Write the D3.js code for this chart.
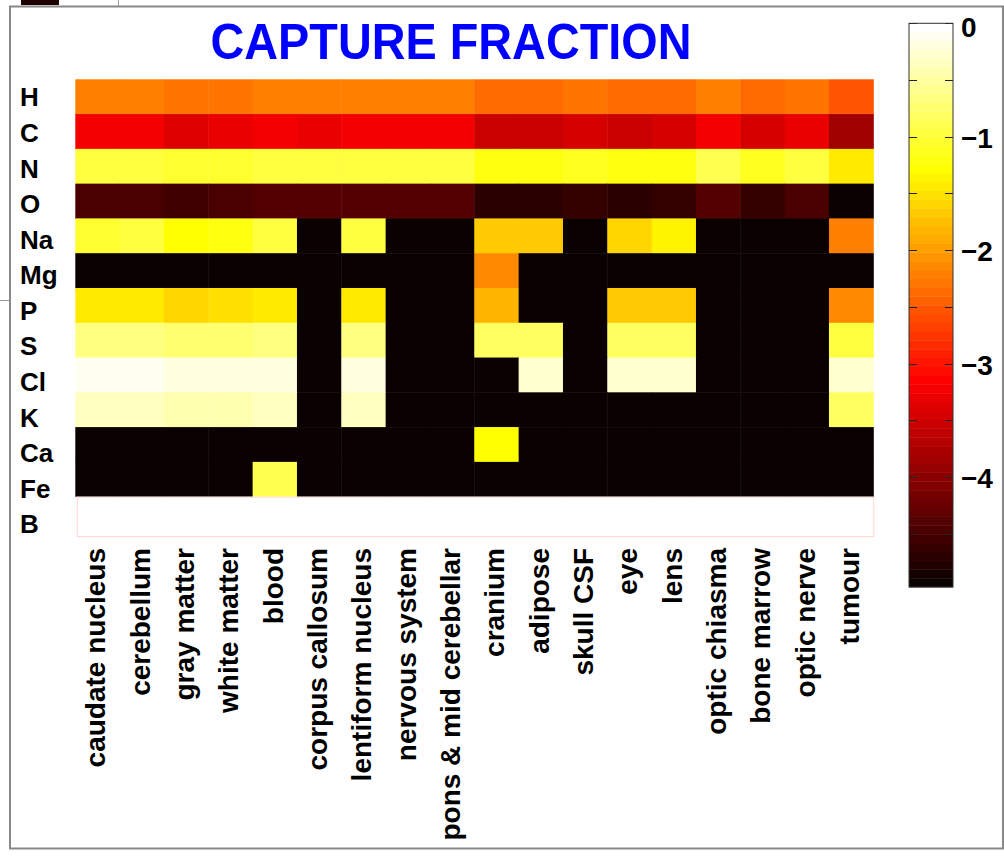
<!DOCTYPE html>
<html>
<head>
<meta charset="utf-8">
<script src="https://cdn.jsdelivr.net/npm/d3@7/dist/d3.min.js"></script>
<style>
  html, body { margin: 0; padding: 0; background: #fff; }
  svg { display: block; }
  text { font-family: "Liberation Sans", Arial, Helvetica, sans-serif; font-weight: bold; }
</style>
</head>
<body>
<script>
// log10 of the neutron capture fraction, per element (rows) and tissue (columns)
const elements = ["H", "C", "N", "O", "Na", "Mg", "P", "S", "Cl", "K", "Ca", "Fe", "B"];
const tissues = ["caudate nucleus", "cerebellum", "gray matter", "white matter", "blood",
  "corpus callosum", "lentiform nucleus", "nervous system", "pons & mid cerebellar",
  "cranium", "adipose", "skull CSF", "eye", "lens", "optic chiasma", "bone marrow",
  "optic nerve", "tumour"];

const rowH  = [-2.21,-2.21,-2.29,-2.29,-2.21,-2.21,-2.21,-2.21,-2.21,-2.37,-2.37,-2.29,-2.37,-2.37,-2.21,-2.37,-2.29,-2.52];
const rowC  = [-3.22,-3.22,-3.38,-3.30,-3.22,-3.30,-3.22,-3.22,-3.22,-3.53,-3.53,-3.46,-3.53,-3.46,-3.22,-3.46,-3.30,-3.84];
const rowN  = [-0.97,-0.97,-1.05,-1.05,-0.97,-0.97,-0.97,-0.97,-0.97,-1.20,-1.20,-1.13,-1.20,-1.20,-0.89,-1.13,-0.97,-1.44];
const rowO  = [-4.47,-4.47,-4.54,-4.47,-4.39,-4.39,-4.39,-4.39,-4.39,-4.70,-4.70,-4.62,-4.70,-4.62,-4.39,-4.62,-4.47,-4.97];
const rowNa = [-1.05,-0.97,-1.28,-1.20,-0.97,-4.97,-0.97,-4.97,-4.97,-1.67,-1.67,-4.97,-1.59,-1.36,-4.97,-4.97,-4.97,-2.21];
const rowMg = [-4.97,-4.97,-4.97,-4.97,-4.97,-4.97,-4.97,-4.97,-4.97,-2.14,-4.97,-4.97,-4.97,-4.97,-4.97,-4.97,-4.97,-4.97];
const rowP  = [-1.44,-1.44,-1.59,-1.51,-1.44,-4.97,-1.44,-4.97,-4.97,-1.83,-4.97,-4.97,-1.67,-1.67,-4.97,-4.97,-4.97,-2.14];
const rowS  = [-0.66,-0.66,-0.74,-0.74,-0.66,-4.97,-0.66,-4.97,-4.97,-0.82,-0.82,-4.97,-0.82,-0.82,-4.97,-4.97,-4.97,-0.97];
const rowCl = [-0.12,-0.12,-0.19,-0.19,-0.19,-4.97,-0.19,-4.97,-4.97,-4.97,-0.27,-4.97,-0.27,-0.27,-4.97,-4.97,-4.97,-0.27];
const rowK  = [-0.35,-0.35,-0.43,-0.43,-0.35,-4.97,-0.35,-4.97,-4.97,-4.97,-4.97,-4.97,-4.97,-4.97,-4.97,-4.97,-4.97,-0.82];
const rowCa = [-4.97,-4.97,-4.97,-4.97,-4.97,-4.97,-4.97,-4.97,-4.97,-1.28,-4.97,-4.97,-4.97,-4.97,-4.97,-4.97,-4.97,-4.97];
const rowFe = [-4.97,-4.97,-4.97,-4.97,-0.89,-4.97,-4.97,-4.97,-4.97,-4.97,-4.97,-4.97,-4.97,-4.97,-4.97,-4.97,-4.97,-4.97];
const rowB  = [0,0,0,0,0,0,0,0,0,0,0,0,0,0,0,0,0,0];

const rows = [rowH, rowC, rowN, rowO, rowNa, rowMg, rowP, rowS, rowCl, rowK, rowCa, rowFe, rowB];
const colorbarTicks = [0, -1, -2, -3, -4];
const titleText = "CAPTURE FRACTION";

// ---- layout ----
const W = 1004, H = 857;
const heat = { left: 75.3, right: 873.3, top: 79.3, rowStep: 34.78, bottom: 537 };
const cbar = { x: 909, w: 44, top: 23.3, bottom: 587 };

const svg = d3.select("body").append("svg").attr("width", W).attr("height", H);

// neighbouring panel fragments and the panel frame
svg.append("rect").attr("x", 21).attr("y", 0).attr("width", 38).attr("height", 5).attr("fill", "#1e0000");
svg.append("line").attr("x1", 118.5).attr("x2", 118.5).attr("y1", 0).attr("y2", 6).attr("stroke", "#999");
svg.append("line").attr("x1", 0).attr("x2", 10).attr("y1", 300.5).attr("y2", 300.5).attr("stroke", "#999");
svg.append("rect").attr("x", 10).attr("y", 6.5).attr("width", 993).attr("height", 842)
  .attr("fill", "#fff").attr("stroke", "#888").attr("stroke-width", 2);

// MATLAB-style "hot" colormap with 64 entries
const hot64 = d3.range(1, 65).map(i => {
  const n = 24, m = 64;
  const r = Math.min(i / n, 1);
  const g = Math.max(0, Math.min((i - n) / n, 1));
  const b = Math.max(0, Math.min((i - 2 * n) / (m - 2 * n), 1));
  return d3.rgb(Math.round(r * 255), Math.round(g * 255), Math.round(b * 255)).formatHex();
});

const allValues = rows.flat();
const color = d3.scaleQuantize().domain(d3.extent(allValues)).range(hot64);

const x = d3.scaleBand().domain(tissues).range([heat.left, heat.right]);
const y = d3.scaleBand().domain(elements)
  .range([heat.top, heat.top + heat.rowStep * elements.length]);

// cells
const cells = [];
rows.forEach((r, ri) => r.forEach((v, ci) => cells.push({ el: elements[ri], t: tissues[ci], v })));

const lastEl = elements[elements.length - 1];
svg.append("g").selectAll("rect").data(cells.filter(d => d.el !== lastEl)).join("rect")
  .attr("x", d => x(d.t))
  .attr("y", d => y(d.el))
  .attr("width", x.bandwidth() + 0.5)
  .attr("height", y.bandwidth() + 0.5)
  .attr("fill", d => color(d.v));

// boron row: saturated cells outlined faintly
svg.append("g").selectAll("rect").data(cells.filter(d => d.el === lastEl)).join("rect")
  .attr("x", d => x(d.t))
  .attr("y", d => y(d.el))
  .attr("width", x.bandwidth())
  .attr("height", d => heat.bottom - y(d.el))
  .attr("fill", d => color(d.v));
svg.append("rect")
  .attr("x", heat.left + 2).attr("y", y(lastEl) + 0.5)
  .attr("width", heat.right - heat.left - 1.5).attr("height", heat.bottom - y(lastEl) - 1)
  .attr("fill", "none").attr("stroke", "#ffd6d6").attr("stroke-width", 1);

// row labels
const yl = d3.scalePoint().domain(elements).range([97, 524]);
svg.append("g").selectAll("text").data(elements).join("text")
  .attr("x", 20).attr("y", d => yl(d)).attr("dy", "0.36em")
  .attr("font-size", 26).attr("fill", "#000")
  .text(d => d);

// column labels, rotated
svg.append("g").selectAll("text").data(tissues).join("text")
  .attr("transform", d => `translate(${x(d) + x.bandwidth() / 2 + 8},548) rotate(-90)`)
  .attr("text-anchor", "end")
  .attr("font-size", 28).attr("fill", "#000")
  .text(d => d);

// title
svg.append("text")
  .attr("x", 451).attr("y", 59.3)
  .attr("text-anchor", "middle")
  .attr("font-size", 50).attr("fill", "#0000ff")
  .attr("textLength", 481).attr("lengthAdjust", "spacingAndGlyphs")
  .text(titleText);

// colour bar
const cy = d3.scaleLinear().domain(color.domain()).range([cbar.bottom, cbar.top]);
const [cmin, cmax] = color.domain();
const step = (cmax - cmin) / hot64.length;
svg.append("g").selectAll("rect").data(hot64).join("rect")
  .attr("x", cbar.x)
  .attr("y", (c, i) => cy(cmin + (i + 1) * step))
  .attr("width", cbar.w)
  .attr("height", (c, i) => cy(cmin + i * step) - cy(cmin + (i + 1) * step) + 0.4)
  .attr("fill", c => c);

const minor = d3.range(0, -4.6, -0.5);
const tg = svg.append("g").attr("stroke", "#222").attr("stroke-width", 1);
minor.forEach(v => {
  const yy = Math.round(cy(v)) + 0.5;
  tg.append("line").attr("x1", cbar.x).attr("x2", cbar.x + 8).attr("y1", yy).attr("y2", yy);
  tg.append("line").attr("x1", cbar.x + cbar.w - 8).attr("x2", cbar.x + cbar.w).attr("y1", yy).attr("y2", yy);
});
svg.append("rect").attr("x", cbar.x).attr("y", cbar.top).attr("width", cbar.w)
  .attr("height", cbar.bottom - cbar.top).attr("fill", "none").attr("stroke", "#333").attr("stroke-width", 1);

const fmt = d3.format("d");
svg.append("g").selectAll("text").data(colorbarTicks).join("text")
  .attr("x", 961).attr("y", d => cy(d) + (d === 0 ? 4 : 1)).attr("dy", "0.36em")
  .attr("font-size", 28).attr("fill", "#000")
  .text(d => fmt(d));
</script>
</body>
</html>
